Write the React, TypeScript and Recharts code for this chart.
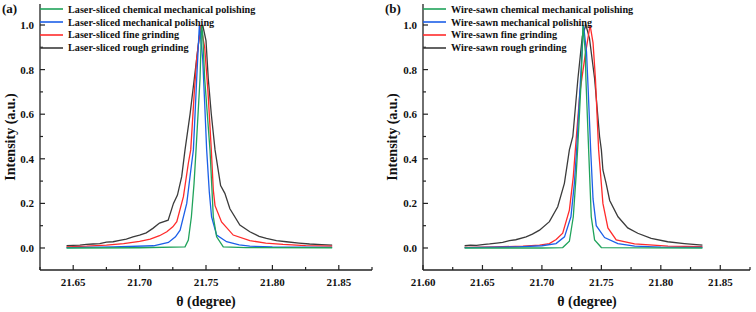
import { LineChart, Line, XAxis, YAxis, Legend } from "recharts";

type Pt = [number, number];

// panel (a) – laser-sliced, [theta, normalised intensity]
const laserRough: Pt[] = [
  [21.645, 0.01], [21.65, 0.012], [21.655, 0.013], [21.66, 0.016], [21.665, 0.018],
  [21.67, 0.02], [21.675, 0.026], [21.68, 0.028], [21.685, 0.034], [21.69, 0.04],
  [21.695, 0.05], [21.7, 0.058], [21.705, 0.068], [21.71, 0.088], [21.715, 0.112],
  [21.7215, 0.125], [21.7255, 0.2], [21.7285, 0.237], [21.7317, 0.32], [21.7342, 0.44],
  [21.738, 0.6], [21.7412, 0.76], [21.745, 0.95], [21.7475, 1.0], [21.75, 0.93],
  [21.7517, 0.76], [21.754, 0.6], [21.7568, 0.44], [21.761, 0.28], [21.7642, 0.245],
  [21.768, 0.176], [21.7755, 0.103], [21.783, 0.073], [21.79, 0.052], [21.7955, 0.043],
  [21.803, 0.033], [21.8105, 0.028], [21.82, 0.022], [21.828, 0.018], [21.837, 0.015],
  [21.845, 0.013],
];
const laserFine: Pt[] = [
  [21.645, 0.005], [21.66, 0.008], [21.675, 0.013], [21.688, 0.02], [21.7, 0.03],
  [21.708, 0.04], [21.715, 0.055], [21.7205, 0.073], [21.725, 0.095], [21.728, 0.118],
  [21.733, 0.23], [21.7367, 0.38], [21.7385, 0.44], [21.7412, 0.7], [21.743, 0.85],
  [21.746, 1.0], [21.749, 0.9], [21.7515, 0.7], [21.754, 0.44], [21.7555, 0.26],
  [21.7568, 0.19], [21.7617, 0.117], [21.7705, 0.058], [21.783, 0.033], [21.795, 0.022],
  [21.808, 0.016], [21.825, 0.011], [21.845, 0.008],
];
const laserMech: Pt[] = [
  [21.645, 0.002], [21.68, 0.005], [21.7105, 0.01], [21.7217, 0.025], [21.727, 0.05],
  [21.7305, 0.08], [21.7355, 0.2], [21.739, 0.37], [21.7405, 0.44], [21.743, 0.76],
  [21.745, 1.0], [21.7475, 0.85], [21.749, 0.65], [21.7505, 0.44], [21.7525, 0.25],
  [21.7542, 0.14], [21.758, 0.058], [21.7655, 0.028], [21.775, 0.014], [21.783, 0.008],
  [21.8, 0.005], [21.845, 0.003],
];
const laserCmp: Pt[] = [
  [21.645, 0.0], [21.7, 0.001], [21.7342, 0.005], [21.7367, 0.036], [21.739, 0.14],
  [21.741, 0.29], [21.7425, 0.44], [21.7455, 0.76], [21.7467, 1.0], [21.7475, 0.96],
  [21.749, 0.76], [21.751, 0.6], [21.753, 0.44], [21.7555, 0.14], [21.758, 0.05],
  [21.763, 0.005], [21.78, 0.002], [21.845, 0.001],
];

// panel (b) – wire-sawn
const wireRough: Pt[] = [
  [21.635, 0.01], [21.64, 0.013], [21.645, 0.012], [21.65, 0.015], [21.656, 0.018],
  [21.662, 0.022], [21.667, 0.025], [21.6727, 0.033], [21.678, 0.037], [21.6867, 0.05],
  [21.692, 0.062], [21.698, 0.08], [21.7063, 0.118], [21.7133, 0.185], [21.7189, 0.29],
  [21.7231, 0.44], [21.726, 0.5], [21.7303, 0.76], [21.734, 0.95], [21.737, 1.0],
  [21.74, 0.94], [21.7443, 0.76], [21.7485, 0.5], [21.75, 0.44], [21.7513, 0.35],
  [21.754, 0.29], [21.757, 0.213], [21.764, 0.14], [21.7722, 0.09], [21.7806, 0.066],
  [21.7919, 0.043], [21.8058, 0.028], [21.8198, 0.02], [21.835, 0.013],
];
const wireFine: Pt[] = [
  [21.635, 0.003], [21.66, 0.005], [21.684, 0.008], [21.698, 0.013], [21.7063, 0.02],
  [21.712, 0.038], [21.7175, 0.066], [21.7231, 0.17], [21.7264, 0.32], [21.7281, 0.44],
  [21.732, 0.7], [21.736, 0.85], [21.7405, 1.0], [21.743, 0.92], [21.745, 0.76],
  [21.7477, 0.44], [21.7513, 0.2], [21.7555, 0.09], [21.7625, 0.036], [21.7779, 0.018],
  [21.806, 0.008], [21.835, 0.006],
];
const wireMech: Pt[] = [
  [21.635, 0.002], [21.68, 0.005], [21.7, 0.01], [21.7119, 0.02], [21.719, 0.05],
  [21.7244, 0.14], [21.7273, 0.29], [21.7292, 0.44], [21.7325, 0.76], [21.735, 1.0],
  [21.7375, 0.88], [21.739, 0.7], [21.741, 0.44], [21.743, 0.22], [21.7457, 0.1],
  [21.7527, 0.047], [21.7639, 0.02], [21.778, 0.008], [21.8, 0.004], [21.835, 0.003],
];
const wireCmp: Pt[] = [
  [21.635, 0.0], [21.7, 0.0], [21.7175, 0.002], [21.7231, 0.03], [21.7264, 0.14],
  [21.7287, 0.32], [21.73, 0.44], [21.7331, 0.76], [21.7345, 1.0], [21.7365, 0.88],
  [21.737, 0.76], [21.7393, 0.44], [21.7415, 0.14], [21.7443, 0.036], [21.75, 0.002],
  [21.835, 0.0],
];

const laserNames = [
  "Laser-sliced chemical mechanical polishing",
  "Laser-sliced mechanical polishing",
  "Laser-sliced fine grinding",
  "Laser-sliced rough grinding",
];
const wireNames = [
  "Wire-sawn chemical mechanical polishing",
  "Wire-sawn mechanical polishing",
  "Wire-sawn fine grinding",
  "Wire-sawn rough grinding",
];

const xTicksA = [21.625, 21.65, 21.675, 21.7, 21.725, 21.75, 21.775, 21.8, 21.825, 21.85, 21.875];
const xTicksB = [21.6, 21.625, 21.65, 21.675, 21.7, 21.725, 21.75, 21.775, 21.8, 21.825, 21.85, 21.875];
const yTicks = [0, 0.1, 0.2, 0.3, 0.4, 0.5, 0.6, 0.7, 0.8, 0.9, 1.0];

const colors = ["#20a35b", "#1c5fe8", "#ff2b2b", "#3b3b3b"]; // cmp, mech, fine, rough
const font = "'Liberation Serif', 'Times New Roman', serif";
const axisColor = "#222";

const toRows = (pts: Pt[]) => pts.map(([x, y]) => ({ x, y }));

const XTick = (props: any) => {
  const { x, y, payload } = props;
  const v = payload.value as number;
  const major = Math.abs(v * 20 - Math.round(v * 20)) < 1e-6;
  return (
    <g>
      <line x1={x} x2={x} y1={y} y2={y - (major ? 5 : 3)} stroke={axisColor} strokeWidth={1.2} />
      {major && (
        <text x={x} y={y + 16} textAnchor="middle" fontFamily={font} fontWeight="bold" fontSize={11} fill="#111">
          {v.toFixed(2)}
        </text>
      )}
    </g>
  );
};

const YTick = (props: any) => {
  const { x, y, payload } = props;
  const v = payload.value as number;
  const major = Math.abs(v * 5 - Math.round(v * 5)) < 1e-6;
  return (
    <g>
      <line x1={x} x2={x + (major ? 5 : 3)} y1={y} y2={y} stroke={axisColor} strokeWidth={1.2} />
      {major && (
        <text x={x - 6} y={y + 4} textAnchor="end" fontFamily={font} fontWeight="bold" fontSize={11} fill="#111">
          {v.toFixed(1)}
        </text>
      )}
    </g>
  );
};

const LegendBox = ({ names }: { names: string[] }) => (
  <div style={{ fontFamily: font, fontWeight: "bold", fontSize: 10.2, color: "#111" }}>
    {names.map((n, i) => (
      <div key={n} style={{ display: "flex", alignItems: "center", height: 12.8, whiteSpace: "nowrap" }}>
        <svg width={26} height={6} style={{ marginRight: 2 }}>
          <line x1={0} x2={23} y1={3} y2={3} stroke={colors[i]} strokeWidth={1.6} />
        </svg>
        <span>{n}</span>
      </div>
    ))}
  </div>
);

const Panel = ({
  series,
  names,
  domain,
  ticks,
  width,
}: {
  series: Pt[][];
  names: string[];
  domain: [number, number];
  ticks: number[];
  width: number;
}) => (
  <LineChart width={width} height={312} margin={{ top: 4, right: 6, bottom: 12, left: 0 }}>
    <XAxis
      dataKey="x"
      type="number"
      domain={domain}
      ticks={ticks}
      allowDataOverflow
      height={30}
      tickSize={0}
      tickMargin={0}
      tickLine={false}
      tick={<XTick />}
      interval={0}
      stroke={axisColor}
      strokeWidth={1.3}
    />
    <XAxis xAxisId="top" orientation="top" height={0} tick={false} tickLine={false} stroke={axisColor} strokeWidth={1.3} />
    <YAxis
      type="number"
      domain={[-0.0987, 1.0942]}
      ticks={yTicks}
      allowDataOverflow
      width={40}
      tickSize={0}
      tickMargin={0}
      tickLine={false}
      tick={<YTick />}
      interval={0}
      stroke={axisColor}
      strokeWidth={1.3}
    />
    <YAxis yAxisId="right" orientation="right" width={0} tick={false} tickLine={false} stroke={axisColor} strokeWidth={1.3} />
    <Legend
      layout="vertical"
      align="center"
      verticalAlign="middle"
      wrapperStyle={{ left: 40, top: 3 }}
      content={() => <LegendBox names={names} />}
    />
    {[3, 2, 1, 0].map((i) => (
      <Line
        key={names[i]}
        data={toRows(series[i])}
        dataKey="y"
        name={names[i]}
        stroke={colors[i]}
        strokeWidth={1.3}
        dot={false}
        type="linear"
        isAnimationActive={false}
      />
    ))}
  </LineChart>
);

const textStyle = { position: "absolute" as const, fontFamily: font, fontWeight: "bold" as const, color: "#111", whiteSpace: "nowrap" as const };

export default function App() {
  return (
    <div style={{ position: "absolute", left: 0, top: 0, width: 756, height: 312, background: "#fff" }}>
      <div style={{ position: "absolute", left: 0, top: 0 }}>
        <Panel series={[laserCmp, laserMech, laserFine, laserRough]} names={laserNames} domain={[21.625, 21.875]} ticks={xTicksA} width={378} />
      </div>
      <div style={{ position: "absolute", left: 383, top: 0 }}>
        <Panel series={[wireCmp, wireMech, wireFine, wireRough]} names={wireNames} domain={[21.6, 21.875]} ticks={xTicksB} width={373} />
      </div>
      <div style={{ ...textStyle, left: 2, top: 1, fontSize: 13 }}>(a)</div>
      <div style={{ ...textStyle, left: 385, top: 1, fontSize: 13 }}>(b)</div>
      <div style={{ ...textStyle, left: 11, top: 137, fontSize: 14, transform: "translate(-50%, -50%) rotate(-90deg)" }}>Intensity (a.u.)</div>
      <div style={{ ...textStyle, left: 393, top: 137, fontSize: 14, transform: "translate(-50%, -50%) rotate(-90deg)" }}>Intensity (a.u.)</div>
      <div style={{ ...textStyle, left: 206, top: 302, fontSize: 14, transform: "translate(-50%, -50%)" }}>θ (degree)</div>
      <div style={{ ...textStyle, left: 587, top: 302, fontSize: 14, transform: "translate(-50%, -50%)" }}>θ (degree)</div>
    </div>
  );
}
